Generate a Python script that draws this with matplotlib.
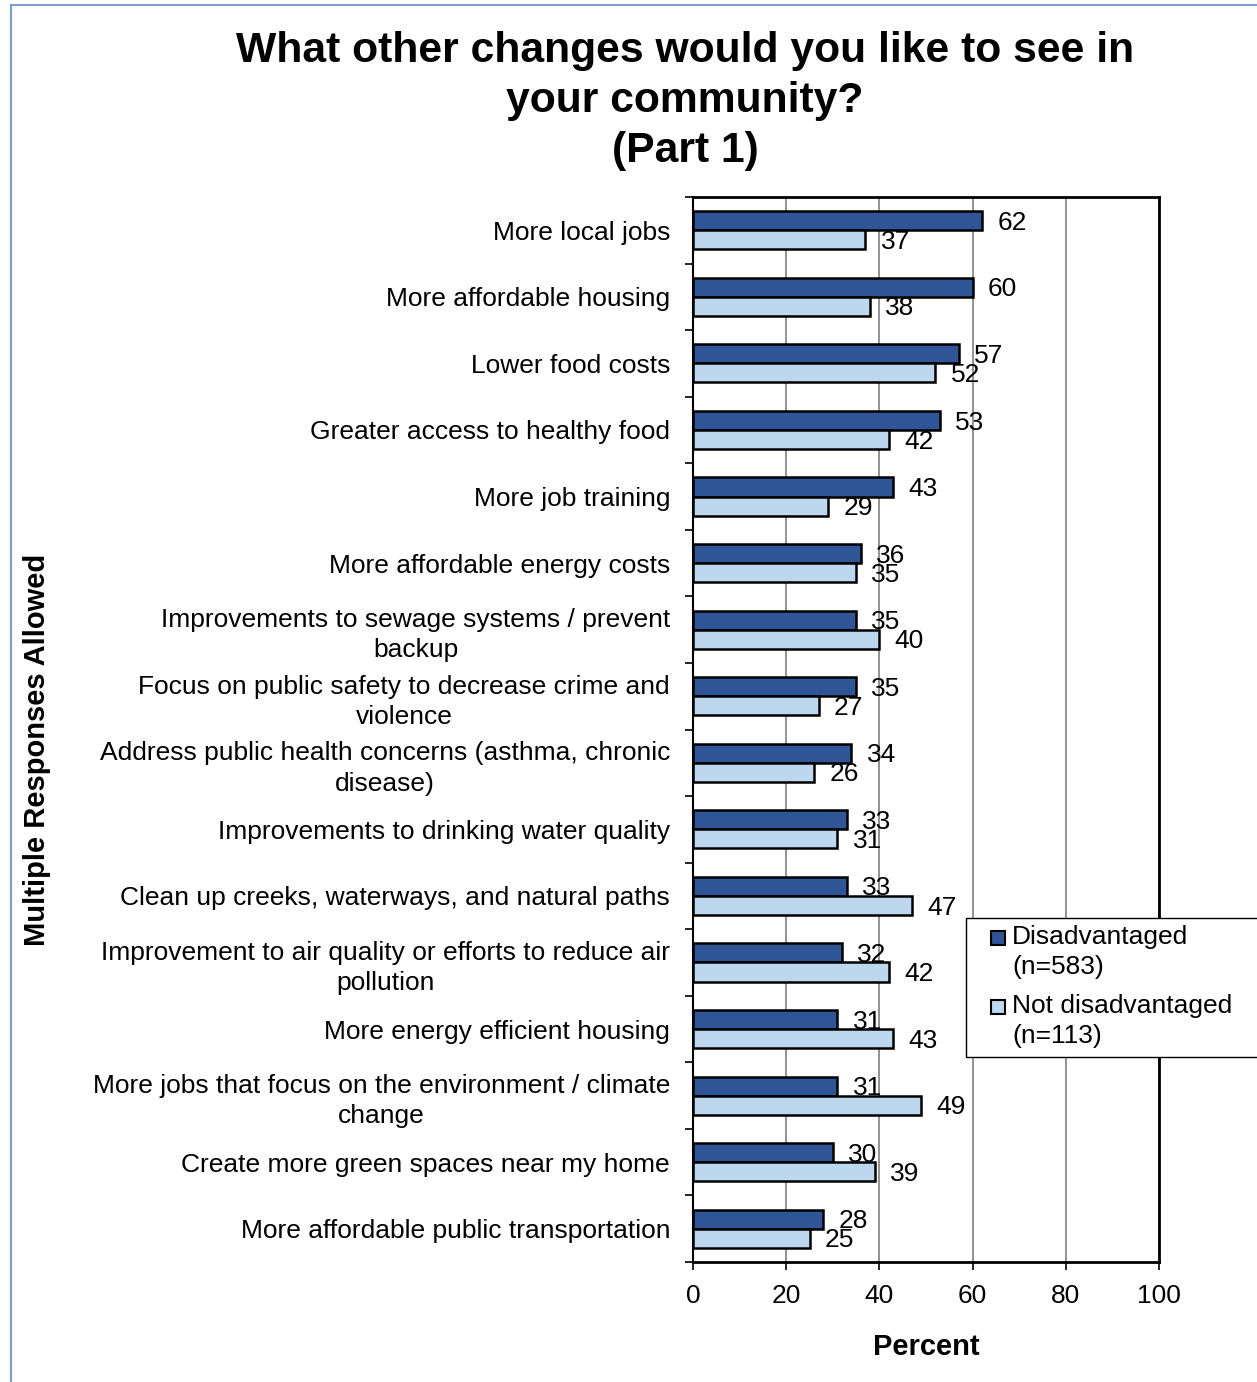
import matplotlib
matplotlib.use("Agg")
import matplotlib.pyplot as plt
import numpy as np
from matplotlib.lines import Line2D
from matplotlib.patches import Rectangle

plt.rcParams['font.family'] = ['Liberation Sans', 'DejaVu Sans']

categories = [
    "More local jobs",
    "More affordable housing",
    "Lower food costs",
    "Greater access to healthy food",
    "More job training",
    "More affordable energy costs",
    "Improvements to sewage systems / prevent\nbackup",
    "Focus on public safety to decrease crime and\nviolence",
    "Address public health concerns (asthma, chronic\ndisease)",
    "Improvements to drinking water quality",
    "Clean up creeks, waterways, and natural paths",
    "Improvement to air quality or efforts to reduce air\npollution",
    "More energy efficient housing",
    "More jobs that focus on the environment / climate\nchange",
    "Create more green spaces near my home",
    "More affordable public transportation",
]
disadvantaged = [62, 60, 57, 53, 43, 36, 35, 35, 34, 33, 33, 32, 31, 31, 30, 28]
not_disadvantaged = [37, 38, 52, 42, 29, 35, 40, 27, 26, 31, 47, 42, 43, 49, 39, 25]
series_labels = ["Disadvantaged\n(n=583)", "Not disadvantaged\n(n=113)"]
x_ticks = [0, 20, 40, 60, 80, 100]

W, H = 1257, 1382
fig = plt.figure(figsize=(W / 100, H / 100), dpi=100)
ax = fig.add_axes([693 / W, 1 - 1262 / H, (1159 - 693) / W, (1262 - 197) / H])

dark = "#2F5597"
light = "#BDD7EE"
colors = [dark, light]
y = np.arange(len(categories))
bh = 0.286
b1 = ax.barh(y - bh / 2, disadvantaged, height=bh, color=dark, edgecolor="black", linewidth=1.8, zorder=3)
b2 = ax.barh(y + bh / 2, not_disadvantaged, height=bh, color=light, edgecolor="black", linewidth=1.8, zorder=3)

for bars, vals in ((b1, disadvantaged), (b2, not_disadvantaged)):
    for rect, v in zip(bars, vals):
        ax.annotate(str(v), xy=(v, rect.get_y() + rect.get_height() / 2),
                    xytext=(11, -1.5), textcoords="offset points",
                    ha="left", va="center", fontsize=19, zorder=5)

ax.set_xlim(0, 100)
ax.set_ylim(len(categories) - 0.5, -0.5)
ax.set_xticks(x_ticks)
ax.set_xticklabels([str(t) for t in x_ticks], fontsize=19)
ax.xaxis.grid(True, color="#7f7f7f", linewidth=1.2, zorder=0)
ax.set_axisbelow(True)

ax.set_yticks(np.arange(len(categories) + 1) - 0.5)
ax.set_yticklabels([])
ax.set_yticks(y, minor=True)
ax.set_yticklabels(categories, minor=True, fontsize=19, multialignment="center")
for t in ax.get_yticklabels(minor=True):
    t.set_linespacing(1.33)
ax.tick_params(axis="y", which="minor", length=0, pad=16.5)
ax.tick_params(axis="y", which="major", length=6, width=1.2, direction="out")
ax.tick_params(axis="x", length=6, width=1.2, direction="out", pad=10)

for s in ax.spines.values():
    s.set_linewidth(2)
    s.set_color("black")
ax.spines["left"].set_linewidth(1.5)

ax.set_xlabel("Percent", fontsize=21, fontweight="bold", labelpad=18)

fig.text(37 / W, 1 - 750 / H, "Multiple Responses Allowed", rotation=90,
         fontsize=21, fontweight="bold", ha="center", va="center")
fig.text(685 / W, 1 - 101 / H, "What other changes would you like to see in\nyour community?\n(Part 1)",
         fontsize=30.7, fontweight="bold", ha="center", va="center", linespacing=1.31)

# legend (drawn manually so the swatch sits next to the first line)
fig.add_artist(Rectangle((966 / W, 1 - 1057 / H), (1257 + 10 - 966) / W, (1057 - 918) / H,
                         transform=fig.transFigure, facecolor="white", edgecolor="black",
                         linewidth=1.0, zorder=10, clip_on=False))
first_line_y = [938, 1007]
for lab, col, yy in zip(series_labels, colors, first_line_y):
    fig.add_artist(Rectangle((991 / W, 1 - (yy + 7) / H), 14 / W, 14 / H,
                             transform=fig.transFigure, facecolor=col, edgecolor="black",
                             linewidth=1.5, zorder=11))
    fig.text(1012 / W, 1 - (yy - 13) / H, lab, fontsize=19, ha="left", va="top",
             linespacing=1.33, zorder=12)

bc = "#7F9FD3"
fig.add_artist(Line2D([11 / W, 11 / W], [0, 1 - 5 / H], color=bc, linewidth=1.5, transform=fig.transFigure))
fig.add_artist(Line2D([11 / W, 1], [1 - 5 / H, 1 - 5 / H], color=bc, linewidth=1.5, transform=fig.transFigure))

fig.savefig("out.png", dpi=100)
